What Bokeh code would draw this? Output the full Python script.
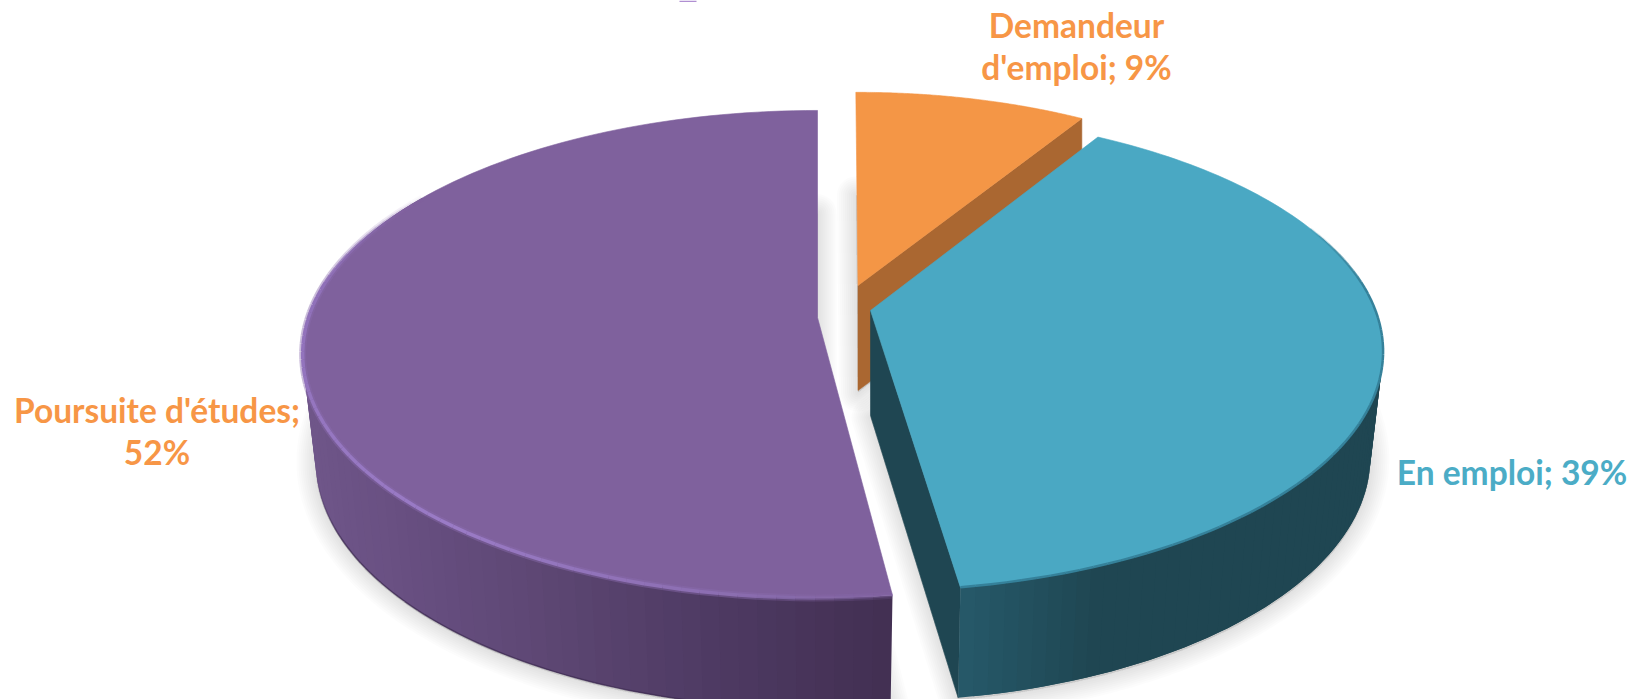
import math
from bokeh.plotting import figure
from bokeh.models import ColumnDataSource
from bokeh.core.properties import value
from bokeh.embed import file_html
from bokeh.resources import INLINE

# ---- data
categories = ["Demandeur d'emploi", "En emploi", "Poursuite d'études"]
shares = [9, 39, 52]
label_lines = [["Demandeur", "d'emploi; 9%"], ["En emploi; 39%"], ["Poursuite d'études;", "52%"]]

# ---- styles
top_colors = ["#F49646", "#4AA8C3", "#7F619D"]
cut_colors = ["#AA6731", "#1F4652", None]
label_colors = ["#F79646", "#4BACC6", "#F79646"]
label_centers = [(1076, [24, 66]), (1511.5, [471]), (156.5, [409, 451])]
FONT = "Lato"
FONT_SIZE = "33.5px"

# ---- projection of the tilted disc, in page pixels (one set per slice)
APEX = [(857.5, 285), (870, 310), (817, 317)]   # exploded slice centres
SCALE = [0.933, 1.0, 1.0]
ROT = [-0.3, -1.3, 0.0]                          # small per-slice angular settling
RX = [509.0, 505.0, 509.0]
RY = [238.2, 232.3, 238.2]
PERSP = [0.1505, 0.1716, 0.1505]
DEPTH = 105.0
BOTTOM_X, BOTTOM_Y = 0.975, 1.02


def pt(i, deg, bottom=False):
    a = math.radians(deg)
    u, v = math.sin(a), math.cos(a)
    w = 1 + PERSP[i] * v
    ax, ay = APEX[i]
    dx = SCALE[i] * RX[i] * u / w
    dy = SCALE[i] * RY[i] * v / w
    if bottom:
        return ax + dx * BOTTOM_X, ay + DEPTH - dy * BOTTOM_Y
    return ax + dx, ay - dy


def arc(i, a0, a1, bottom=False, n=120):
    return [pt(i, a0 + (a1 - a0) * k / n, bottom) for k in range(n + 1)]


def mix(c0, c1, t):
    t = max(0.0, min(1.0, t))
    a = [int(c0[j:j + 2], 16) for j in (1, 3, 5)]
    b = [int(c1[j:j + 2], 16) for j in (1, 3, 5)]
    return "#%02x%02x%02x" % tuple(round(x + (y - x) * t) for x, y in zip(a, b))


def ramp(stops, x):
    if x <= stops[0][0]:
        return stops[0][1]
    for (x0, c0), (x1, c1) in zip(stops, stops[1:]):
        if x <= x1:
            return mix(c0, c1, (x - x0) / (x1 - x0))
    return stops[-1][1]


# slice angles come from the shares, clockwise from twelve o'clock
starts, ends, acc = [], [], 0.0
for i, s in enumerate(shares):
    starts.append(acc + ROT[i])
    acc += s * 3.6
    ends.append(acc + ROT[i])

p = figure(width=1628, height=699, x_range=(0, 1628), y_range=(699, 0),
           output_backend="svg", toolbar_location=None, min_border=0,
           margin=(0, 0, 0, 0), background_fill_color="#FFFFFF",
           border_fill_color="#FFFFFF", outline_line_color=None)
p.xaxis.visible = False
p.yaxis.visible = False
p.grid.visible = False


def poly(points, color, stroke=True):
    xs = [q[0] for q in points]
    ys = [q[1] for q in points]
    p.patch(xs, ys, fill_color=color, line_color=color if stroke else None, line_width=0.6)


# soft shadow under each slice
for i in range(3):
    ax, ay = APEX[i]
    ring = [(ax, ay + DEPTH)] + arc(i, starts[i], ends[i], True)
    xs = [q[0] for q in ring]
    ys = [q[1] + 2 for q in ring]
    for lw in range(38, 0, -4):
        p.patch(xs + xs[:1], ys + ys[:1], fill_color="#707070", fill_alpha=0.025,
                line_color="#707070", line_alpha=0.025, line_width=lw, line_join="round")


def wall(i, a0, a1, stops, n=70):
    step = (a1 - a0) / n
    for k in range(n):
        b0 = a0 + step * k
        b1 = a1 if k == n - 1 else b0 + step * 2
        top_pts = [pt(i, b0), pt(i, (b0 + b1) / 2), pt(i, b1)]
        bot_pts = [pt(i, b1, True), pt(i, (b0 + b1) / 2, True), pt(i, b0, True)]
        poly(top_pts + bot_pts, ramp(stops, top_pts[0][0]), stroke=False)


def rim(i, a0, a1, color_at, width, n=70, bottom=False):
    xs, ys, cs, al = [], [], [], []
    for k in range(n):
        b0 = a0 + (a1 - a0) * k / n
        b1 = a0 + (a1 - a0) * (k + 1) / n
        P0, P1 = pt(i, b0, bottom), pt(i, b1, bottom)
        xs.append([P0[0], P1[0]])
        ys.append([P0[1], P1[1]])
        c, a = color_at(k / n)
        cs.append(c)
        al.append(a)
    src = ColumnDataSource(dict(xs=xs, ys=ys, c=cs, a=al))
    p.multi_line("xs", "ys", source=src, line_color="c", line_alpha="a", line_width=width)


ORANGE, TEAL, PURPLE = 0, 1, 2
LIP_END = starts[PURPLE] + 130


def lip_alpha(t):
    return min(1.0, t * 6 + 0.35) if t < 0.8 else (1 - t) * 5


# purple
wall(PURPLE, starts[PURPLE], LIP_END,
     [(305, "#6F5689"), (420, "#674E80"), (560, "#5C4672"), (720, "#4E3A63"), (890, "#433053")])
rim(PURPLE, starts[PURPLE] + 3, starts[PURPLE] + 85, lambda t: ("#3D2B52", min(0.75, (1 - t) * 4)), 1.5, bottom=True)
poly([APEX[PURPLE]] + arc(PURPLE, starts[PURPLE], ends[PURPLE]), top_colors[PURPLE])
rim(PURPLE, starts[PURPLE], LIP_END, lambda t: ("#8A6BAD", 0.45 * lip_alpha(t)), 7)
rim(PURPLE, starts[PURPLE], LIP_END,
    lambda t: (ramp([(0, "#8467A6"), (0.35, "#9A7BC6"), (0.7, "#9273BC"), (1, "#8A6BB0")], t), lip_alpha(t)), 3.5)

# orange
o_end = pt(ORANGE, ends[ORANGE])
o_end_b = (o_end[0], o_end[1] + DEPTH)
poly([APEX[ORANGE], o_end, o_end_b, (APEX[ORANGE][0], APEX[ORANGE][1] + DEPTH)], cut_colors[ORANGE])
poly([APEX[ORANGE]] + arc(ORANGE, starts[ORANGE], ends[ORANGE]), top_colors[ORANGE])

# teal
t_end = pt(TEAL, ends[TEAL])
t_end_b = pt(TEAL, ends[TEAL], True)
poly([APEX[TEAL], t_end, t_end_b, (APEX[TEAL][0], APEX[TEAL][1] + DEPTH)], cut_colors[TEAL])
wall(TEAL, ends[TEAL], 70, [(950, "#26596A"), (1090, "#1F4652"), (1400, "#1F4652")])
poly([APEX[TEAL]] + arc(TEAL, starts[TEAL], ends[TEAL]), top_colors[TEAL])
rim(TEAL, 68, ends[TEAL], lambda t: ("#35819A", min(1.0, t * 6 + 0.15)), 2.5)

# the foot of a clipped title at the very top edge of the picture
p.quad(left=[679], right=[696], top=[0], bottom=[1.4], fill_color="#B08FD2", line_color=None)

# labels
for i, lines in enumerate(label_lines):
    cx, bases = label_centers[i]
    p.text(x=[cx] * len(lines), y=bases, text=lines, text_color=label_colors[i],
           text_font=value(FONT), text_font_style="bold", text_font_size=FONT_SIZE,
           text_align="center", text_baseline="alphabetic")

open("out.html", "w").write(file_html(p, INLINE))
